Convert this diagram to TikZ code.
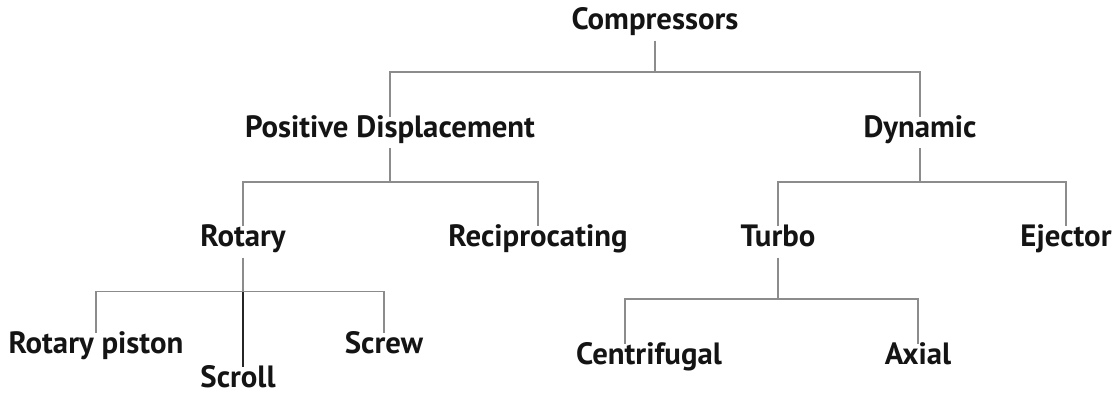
\documentclass[tikz,border=0pt]{standalone}
\usepackage{fontspec}
\setmainfont{PT Sans}
\usepackage{tikz}
\usetikzlibrary{calc}

\begin{document}
\begin{tikzpicture}[
  x=0.5pt, y=-0.5pt,
  term/.style={inner xsep=0pt, inner ysep=2.8pt, text height=0.72em, text depth=0.24em,
    font=\fontsize{15.4}{18}\selectfont\bfseries, text=black!92},
  link/.style={draw=black!45, line width=0.75pt},
]
\useasboundingbox (0,0) rectangle (1115,394);

\node[term] (comp) at (655,25) {Compressors};
\node[term] (pd)   at (390,132.5) {Positive Displacement};
\node[term] (dyn)  at (920,132.5) {Dynamic};
\node[term] (rot)  at (243,242) {Rotary};
\node[term] (rec)  at (538,242) {Reciprocating};
\node[term] (tur)  at (778,242) {Turbo};
\node[term] (ej)   at (1066,242) {Ejector};
\node[term] (pist) at (96,349) {Rotary piston};
\node[term] (scl)  at (238,383) {Scroll};
\node[term] (scr)  at (384,349) {Screw};
\node[term] (cent) at (649,360) {Centrifugal};
\node[term] (ax)   at (918,360) {Axial};

% level 1
\draw[link] (comp.south) -- ++(0,31.5) coordinate (cbus);
\draw[link] (cbus) -| (pd.north);
\draw[link] (cbus) -| (dyn.north);

% level 2
\draw[link] (pd.south) -- ++(0,34) coordinate (pbus);
\draw[link] (pbus) -| (rot.north);
\draw[link] (pbus) -| (rec.north);
\draw[link] (dyn.south) -- ++(0,34) coordinate (dbus);
\draw[link] (dbus) -| (tur.north);
\draw[link] (dbus) -| (ej.north);

% level 3
\draw[link] (rot.south) -- ++(0,34) coordinate (rbus);
\draw[link] (rbus) -| (pist.north);
\draw[link] (rbus) -| (scr.north);
\draw[link, draw=black!85] (rbus) -- (rbus |- scl.north);
\draw[link] (tur.south) -- ++(0,41.5) coordinate (tbus);
\draw[link] (tbus) -| ($(cent.north)+(-24,0)$);
\draw[link] (tbus) -| (ax.north);
\end{tikzpicture}
\end{document}
